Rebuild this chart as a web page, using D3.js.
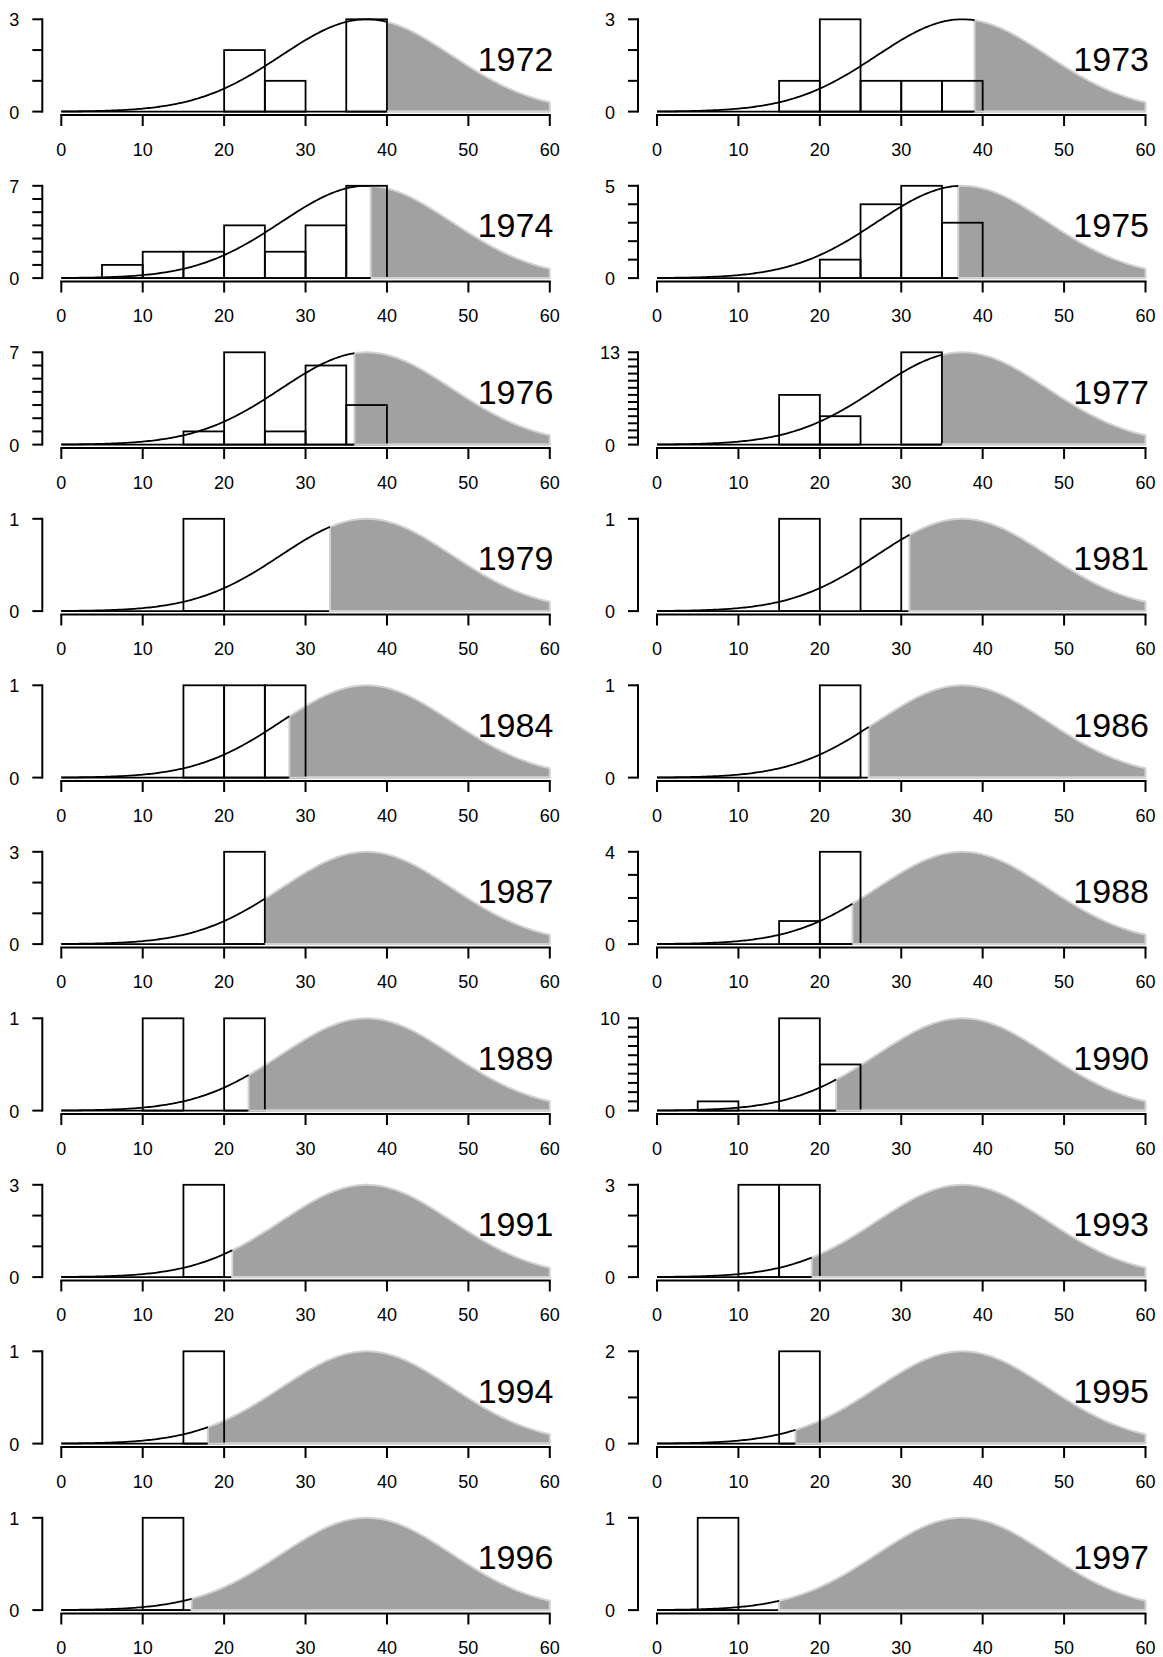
<!DOCTYPE html>
<html>
<head>
<meta charset="utf-8">
<script src="https://cdn.jsdelivr.net/npm/d3@7/dist/d3.min.js"></script>
<style>
  html, body { margin: 0; padding: 0; background: #ffffff; }
  svg { display: block; }
  text { font-family: "Liberation Sans", Arial, Helvetica, sans-serif; fill: #000; }
</style>
</head>
<body>
<svg id="chart" width="1163" height="1657"></svg>
<script>
// ---------------- data ----------------
const years = [1972, 1973, 1974, 1975, 1976, 1977, 1979, 1981, 1984, 1986,
               1987, 1988, 1989, 1990, 1991, 1993, 1994, 1995, 1996, 1997];
// histogram bin edges (width 5)
const binEdges = [0, 5, 10, 15, 20, 25, 30, 35, 40, 45, 50, 55, 60];
// counts per bin (0-5, 5-10, ..., 55-60) for each year
const counts = [
  [0,0,0,0,2,1,0,3,0,0,0,0],   // 1972
  [0,0,0,1,3,1,1,1,0,0,0,0],   // 1973
  [0,1,2,2,4,2,4,7,0,0,0,0],   // 1974
  [0,0,0,0,1,4,5,3,0,0,0,0],   // 1975
  [0,0,0,1,7,1,6,3,0,0,0,0],   // 1976
  [0,0,0,7,4,0,13,0,0,0,0,0],  // 1977
  [0,0,0,1,0,0,0,0,0,0,0,0],   // 1979
  [0,0,0,1,0,1,0,0,0,0,0,0],   // 1981
  [0,0,0,1,1,1,0,0,0,0,0,0],   // 1984
  [0,0,0,0,1,0,0,0,0,0,0,0],   // 1986
  [0,0,0,0,3,0,0,0,0,0,0,0],   // 1987
  [0,0,0,1,4,0,0,0,0,0,0,0],   // 1988
  [0,0,1,0,1,0,0,0,0,0,0,0],   // 1989
  [0,1,0,10,5,0,0,0,0,0,0,0],  // 1990
  [0,0,0,3,0,0,0,0,0,0,0,0],   // 1991
  [0,0,3,3,0,0,0,0,0,0,0,0],   // 1993
  [0,0,0,1,0,0,0,0,0,0,0,0],   // 1994
  [0,0,0,2,0,0,0,0,0,0,0,0],   // 1995
  [0,0,1,0,0,0,0,0,0,0,0,0],   // 1996
  [0,1,0,0,0,0,0,0,0,0,0,0]    // 1997
];
// age where the grey (censored) region starts, per year
const cutoffs = [40, 39, 38, 37, 36, 35, 33, 31, 28, 26,
                 25, 24, 23, 22, 21, 19, 18, 17, 16, 15];
// reference normal curve parameters
const curveMean = 37.5;
const curveSd = 10.5;
// axis ticks
const xTicks = [0, 10, 20, 30, 40, 50, 60];
const xDomain = [0, 60];

// ---------------- layout ----------------
const svg = d3.select("#chart");
const colX0 = [61.3, 657.0];
const plotW = 488.5;
const rowTop0 = 19.3, rowBase0 = 111.6, rowStep = 166.5;

const BLACK = "#000";
const GREY_FILL = "#a1a1a1";
const GREY_EDGE = "#d2d2d2";

function curveShape(xv) {
  return Math.exp(-((xv - curveMean) ** 2) / (2 * curveSd * curveSd));
}

years.forEach((year, i) => {
  const r = Math.floor(i / 2), c = i % 2;
  const top = rowTop0 + rowStep * r;
  const base = rowBase0 + rowStep * r;
  const cts = counts[i];
  const yMax = d3.max(cts);
  const cut = cutoffs[i];

  const x = d3.scaleLinear().domain(xDomain).range([colX0[c], colX0[c] + plotW]);
  const y = d3.scaleLinear().domain([0, yMax]).range([base, top]);

  const g = svg.append("g");

  // sample points for the curve
  const step = 0.25;
  const leftPts = d3.range(0, cut + step / 2, step).map(v => Math.min(v, cut));
  const rightPts = d3.range(cut, 60 + step / 2, step).map(v => Math.min(v, 60));

  // grey region (beyond cutoff)
  const area = d3.area()
    .x(d => x(d))
    .y0(y(0))
    .y1(d => y(yMax * curveShape(d)))
    .curve(d3.curveLinear);
  g.append("path")
    .attr("d", area(rightPts))
    .attr("fill", GREY_FILL)
    .attr("stroke", GREY_EDGE)
    .attr("stroke-width", 2)
    .attr("stroke-linejoin", "round");

  // black curve up to cutoff + baseline
  const line = d3.line()
    .x(d => x(d))
    .y(d => y(yMax * curveShape(d)));
  g.append("path")
    .attr("d", line(leftPts))
    .attr("fill", "none")
    .attr("stroke", BLACK)
    .attr("stroke-width", 1.8);

  // histogram bars (outline only)
  const bars = cts.map((v, k) => ({ x0: binEdges[k], x1: binEdges[k + 1], v }))
                  .filter(d => d.v > 0);
  g.selectAll("rect.bar").data(bars).enter().append("rect")
    .attr("class", "bar")
    .attr("x", d => x(d.x0))
    .attr("y", d => y(d.v))
    .attr("width", d => x(d.x1) - x(d.x0))
    .attr("height", d => y(0) - y(d.v))
    .attr("fill", "none")
    .attr("stroke", BLACK)
    .attr("stroke-width", 1.8);

  // baseline: black up to cutoff, light grey after
  g.append("line")
    .attr("x1", x(cut)).attr("x2", x(60))
    .attr("y1", y(0)).attr("y2", y(0))
    .attr("stroke", GREY_EDGE).attr("stroke-width", 2.2);
  g.append("line")
    .attr("x1", x(0)).attr("x2", x(cut) - 1)
    .attr("y1", y(0)).attr("y2", y(0))
    .attr("stroke", BLACK).attr("stroke-width", 1.8);

  // y axis
  const axX = colX0[c] - 19;
  const yTicks = d3.range(0, yMax + 1);
  g.append("line")
    .attr("x1", axX).attr("x2", axX)
    .attr("y1", y(0)).attr("y2", y(yMax))
    .attr("stroke", BLACK).attr("stroke-width", 2).attr("stroke-linecap", "square");
  g.selectAll("line.ytick").data(yTicks).enter().append("line")
    .attr("class", "ytick")
    .attr("x1", axX - 10).attr("x2", axX)
    .attr("y1", d => y(d)).attr("y2", d => y(d))
    .attr("stroke", BLACK).attr("stroke-width", 2);
  g.selectAll("text.ylab").data([0, yMax]).enter().append("text")
    .attr("class", "ylab")
    .attr("x", axX - 28)
    .attr("y", d => y(d) + 1)
    .attr("text-anchor", "middle")
    .attr("dominant-baseline", "central")
    .attr("font-size", 18)
    .text(d => d);

  // x axis
  const axY = base + 3.4;
  g.append("line")
    .attr("x1", x(0)).attr("x2", x(60))
    .attr("y1", axY).attr("y2", axY)
    .attr("stroke", BLACK).attr("stroke-width", 2).attr("stroke-linecap", "square");
  g.selectAll("line.xtick").data(xTicks).enter().append("line")
    .attr("class", "xtick")
    .attr("x1", d => x(d)).attr("x2", d => x(d))
    .attr("y1", axY).attr("y2", axY + 11)
    .attr("stroke", BLACK).attr("stroke-width", 2);
  g.selectAll("text.xlab").data(xTicks).enter().append("text")
    .attr("class", "xlab")
    .attr("x", d => x(d))
    .attr("y", base + 38)
    .attr("text-anchor", "middle")
    .attr("dominant-baseline", "central")
    .attr("font-size", 18)
    .text(d => d);

  // year label
  g.append("text")
    .attr("x", x(60) + 3.5)
    .attr("y", base - 41)
    .attr("text-anchor", "end")
    .attr("font-size", 34)
    .text(year);
});
</script>
</body>
</html>
